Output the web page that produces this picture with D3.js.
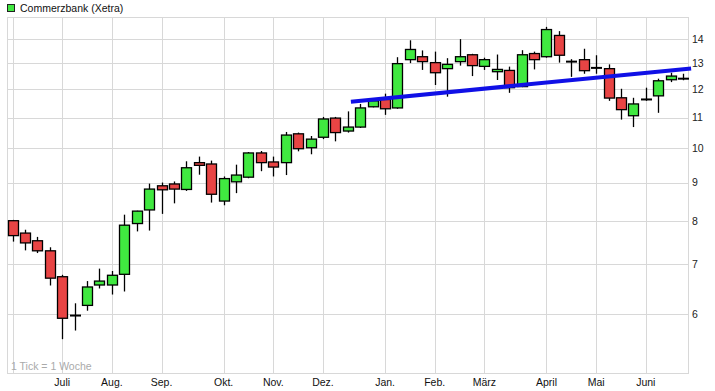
<!DOCTYPE html>
<html>
<head>
<meta charset="utf-8">
<script src="https://cdn.jsdelivr.net/npm/d3@7"></script>
<style>
  html, body { margin: 0; padding: 0; background: #fff; }
  svg { display: block; font-family: 'Liberation Sans', Arial, sans-serif; }
</style>
</head>
<body>
<svg id="chart" width="715" height="391"></svg>
<script>
// ── Data (weekly candles, Commerzbank Xetra) ─────────
const weekIdx = d3.range(55);
const opens  = [8.00, 7.70, 7.52, 7.29, 6.73, 5.97, 6.16, 6.56, 6.56, 6.78, 7.93, 8.27, 8.91, 8.96, 8.81, 9.57, 9.53, 8.50, 9.02, 9.15,
                9.86, 9.59, 9.57, 10.46, 10.02, 10.35, 10.98, 10.55, 10.68, 11.37, 11.63, 11.33, 13.15, 13.27, 13.03, 12.79, 13.07, 13.35, 12.88, 12.67,
                12.72, 12.10, 13.40, 13.27, 14.17, 13.07, 13.15, 12.82, 12.79, 11.69, 11.06, 11.63, 11.76, 12.36, 12.40];
const highs  = [8.02, 7.78, 7.61, 7.37, 6.77, 6.20, 6.64, 6.90, 6.85, 8.15, 8.25, 8.97, 9.00, 9.03, 9.61, 9.75, 9.63, 9.17, 9.51, 9.89,
                9.92, 9.75, 10.52, 10.50, 10.39, 11.02, 11.02, 11.21, 11.47, 11.65, 11.84, 13.25, 13.96, 13.53, 13.48, 13.21, 14.01, 13.39, 13.23, 13.36,
                12.87, 13.54, 13.48, 14.55, 14.36, 13.17, 13.60, 13.33, 12.96, 12.02, 11.69, 12.06, 12.40, 12.63, 12.59];
const lows   = [7.50, 7.30, 7.24, 6.55, 5.55, 5.70, 6.06, 6.49, 6.37, 6.43, 7.74, 7.76, 8.17, 8.44, 8.77, 9.22, 8.46, 8.39, 8.71, 9.12,
                9.32, 9.17, 9.21, 9.91, 9.82, 10.29, 10.22, 10.50, 10.65, 11.35, 11.09, 11.30, 13.01, 12.74, 12.16, 11.73, 12.91, 12.50, 12.74, 12.35,
                11.87, 12.08, 12.76, 13.23, 13.03, 12.47, 12.59, 12.59, 11.58, 10.93, 10.68, 11.58, 11.16, 12.27, 12.34];
const closes = [7.64, 7.47, 7.29, 6.70, 5.92, 5.97, 6.52, 6.64, 6.76, 7.89, 8.24, 8.82, 8.80, 8.82, 9.42, 9.49, 8.68, 9.11, 9.21, 9.86,
                9.57, 9.44, 10.42, 9.99, 10.29, 10.95, 10.50, 10.68, 11.33, 11.58, 11.30, 12.99, 13.57, 13.07, 12.63, 12.96, 13.27, 12.91, 13.15, 12.76,
                12.06, 13.35, 13.15, 14.43, 13.33, 13.07, 12.71, 12.82, 11.68, 11.27, 11.47, 11.63, 12.32, 12.50, 12.40];

// month gridlines: week index of first candle of each month
const monthWeeks  = [0, 4, 8, 12, 17, 21, 25, 30, 34, 38, 43, 47, 51];
const monthLabels = ['', 'Juli', 'Aug.', 'Sep.', 'Okt.', 'Nov.', 'Dez.', 'Jan.', 'Feb.', 'März', 'April', 'Mai', 'Juni'];
const yTicks = [6, 7, 8, 9, 10, 11, 12, 13, 14];

// trend line (week index, price)
const trendWeeks  = [27.25, 54.65];
const trendPrices = [11.55, 12.80];

// ── Layout ───────────────────────────────────────────
const L = 7, R = 688, T = 17, B = 373;
const svg = d3.select('#chart');

const x = d3.scaleLinear().domain([-0.45, 54.4]).range([L, R]);
const y = d3.scaleLog().domain([5, 15]).range([B, T]);

const GRID = '#d8d8d8';
const UP = '#40e840', DOWN = '#e84444';

svg.append('rect').attr('width', 715).attr('height', 391).attr('fill', '#fff');

// grid
const g = svg.append('g');
g.selectAll('line.h').data(yTicks).join('line')
  .attr('x1', L).attr('x2', R)
  .attr('y1', d => Math.round(y(d)) + 0.5).attr('y2', d => Math.round(y(d)) + 0.5)
  .attr('stroke', GRID);
g.selectAll('line.v').data(monthWeeks).join('line')
  .attr('y1', T).attr('y2', B)
  .attr('x1', d => Math.round(x(d)) + 0.5).attr('x2', d => Math.round(x(d)) + 0.5)
  .attr('stroke', GRID);
g.append('rect').attr('x', L + 0.5).attr('y', T + 0.5).attr('width', R - L).attr('height', B - T)
  .attr('fill', 'none').attr('stroke', GRID);

// y axis labels (right)
const yAxis = d3.axisRight(y).tickValues(yTicks).tickFormat(d3.format('d')).tickSize(0).tickPadding(4);
svg.append('g').attr('transform', `translate(${R},0)`).call(yAxis)
  .call(s => s.select('.domain').remove())
  .call(s => s.selectAll('text').attr('font-size', '10.5px').attr('fill', '#222')
    .attr('font-family', "'Liberation Sans', Arial, sans-serif"));

// month labels
svg.append('g').selectAll('text').data(monthWeeks).join('text')
  .attr('x', d => x(d)).attr('y', 386)
  .attr('text-anchor', 'middle')
  .attr('font-size', '10.5px').attr('fill', '#111')
  .text((d, i) => monthLabels[i]);

svg.append('text').attr('x', 11).attr('y', 370)
  .attr('font-size', '10.5px').attr('fill', '#aaa')
  .text('1 Tick = 1 Woche');

// legend
svg.append('rect').attr('x', 7.5).attr('y', 4.5).attr('width', 7).attr('height', 7)
  .attr('fill', UP).attr('stroke', '#222');
svg.append('text').attr('x', 20).attr('y', 12)
  .attr('font-size', '10.5px').attr('fill', '#111')
  .text('Commerzbank (Xetra)');

// candles
const candles = svg.append('g').selectAll('g').data(weekIdx).join('g');
candles.append('line')
  .attr('x1', i => Math.round(x(i)) + 0.5).attr('x2', i => Math.round(x(i)) + 0.5)
  .attr('y1', i => y(highs[i])).attr('y2', i => y(lows[i]))
  .attr('stroke', '#000').attr('stroke-width', 1.3);
candles.filter(i => opens[i] !== closes[i]).append('rect')
  .attr('x', i => Math.round(x(i)) - 4.5)
  .attr('width', 10)
  .attr('y', i => y(Math.max(opens[i], closes[i])))
  .attr('height', i => Math.max(1, Math.abs(y(opens[i]) - y(closes[i]))))
  .attr('fill', i => closes[i] > opens[i] ? UP : DOWN)
  .attr('stroke', '#000').attr('stroke-width', 1.3);
candles.filter(i => opens[i] === closes[i]).append('line')
  .attr('x1', i => Math.round(x(i)) - 5).attr('x2', i => Math.round(x(i)) + 6)
  .attr('y1', i => y(opens[i])).attr('y2', i => y(opens[i]))
  .attr('stroke', '#000').attr('stroke-width', 2);

// trend line
svg.append('line')
  .attr('x1', x(trendWeeks[0])).attr('y1', y(trendPrices[0]))
  .attr('x2', x(trendWeeks[1])).attr('y2', y(trendPrices[1]))
  .attr('stroke', '#1010e6').attr('stroke-width', 4);
</script>
</body>
</html>
